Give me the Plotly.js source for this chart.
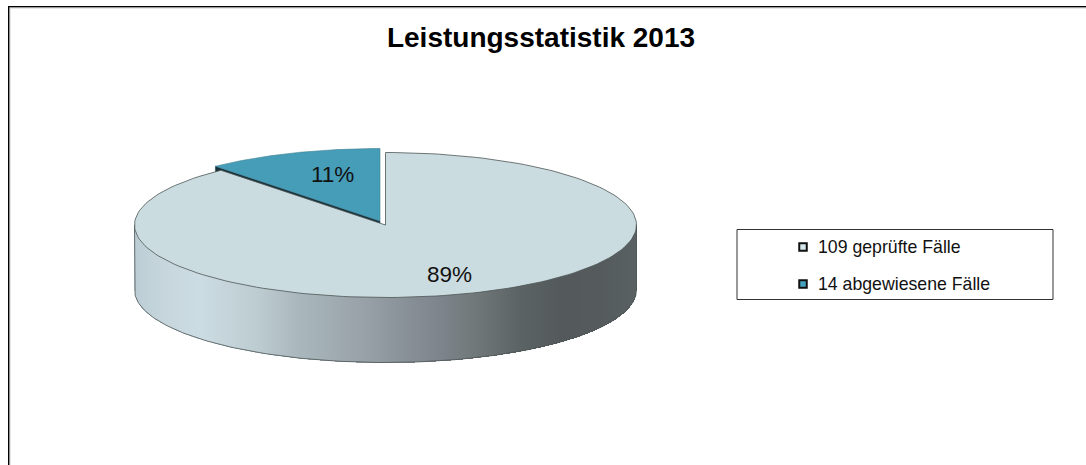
<!DOCTYPE html>
<html><head><meta charset="utf-8">
<script src="https://cdn.plot.ly/plotly-3.0.1.min.js"></script>
<style>html,body{margin:0;padding:0;background:#fff}#c{width:1086px;height:465px}</style>
</head><body><div id="c"></div>
<script>
const categories = ["109 geprüfte Fälle", "14 abgewiesene Fälle"];
const values = [109, 14];
const sliceColors = ["#CBDCE0", "#469DB8"];
const legendColors = ["#D6E8EE", "#46A3BF"];
const titleText = "Leistungsstatistik 2013";
const wallStopX = [135, 165, 200, 260, 300, 370, 440, 470, 520, 560, 600, 637];
const wallStopColor = ["#bdcdd5", "#c6d6dc", "#cbdce2", "#bccbd0", "#a9b7bc", "#969fa5", "#7d848c", "#737a7c", "#5c6364", "#545a5b", "#555b5c", "#5a6162"];

const W = 1086, H = 465;
const F = "'Liberation Sans', Arial, sans-serif";
const rx = 251, ry = 72.5, depth = 65;
const cx = 385.5, cy = 225;
const blueC = [380, 221];
const total = values[0] + values[1];
const fracs = values.map(v => v / total);

function wedge(c, a0, a1) {
  const xs = [c[0]], ys = [c[1]], n = 180;
  for (let i = 0; i <= n; i++) {
    const a = a0 + (a1 - a0) * i / n;
    xs.push(c[0] + rx * Math.sin(a));
    ys.push(c[1] - ry * Math.cos(a));
  }
  xs.push(c[0]); ys.push(c[1]);
  return [xs, ys];
}
const TAU = 2 * Math.PI;
const mainEnd = fracs[0] * TAU;
const mainW = wedge([cx, cy], 0, mainEnd);
const blueW = wedge(blueC, mainEnd, TAU);

// side wall: a gradient field masked to the visible rim
const gx = [], gy = [], gz = [];
for (let x = cx - rx; x <= cx + rx; x++) gx.push(x);
for (let y = cy; y <= cy + ry + depth + 1; y++) gy.push(y);
for (const y of gy) {
  gz.push(gx.map(x => {
    const t = (x - cx) / rx;
    const h = ry * Math.sqrt(Math.max(0, 1 - t * t));
    return (y <= cy + h + depth) ? x : null;
  }));
}
const xMin = wallStopX[0], xMax = wallStopX[wallStopX.length - 1];
const scale = wallStopX.map((x, i) => [(x - xMin) / (xMax - xMin), wallStopColor[i]]);

// lower rim outline
const rimX = [cx - rx], rimY = [cy];
for (let i = 0; i <= 180; i++) {
  const a = Math.PI * i / 180;
  rimX.push(cx - rx * Math.cos(a));
  rimY.push(cy + depth + ry * Math.sin(a));
}
rimX.push(cx + rx); rimY.push(cy);

// wall of the cut edge of the detached slice
const bl = [blueW[0][1], blueW[1][1]];
const cutX = [bl[0], blueC[0], blueC[0], bl[0], bl[0]];
const cutY = [bl[1], blueC[1], blueC[1] + depth, bl[1] + depth, bl[1]];

const edge = {color: "#4d5556", width: 0.8};
const traces = [
  {type: "scatter", x: cutX, y: cutY, mode: "lines", fill: "toself", fillcolor: "#17323c", line: {color: "#17323c", width: 0.5}, hoverinfo: "skip", showlegend: false},
  {type: "scatter", x: blueW[0], y: blueW[1], mode: "lines", fill: "toself", fillcolor: sliceColors[1], line: {color: "#3f7f92", width: 0.6}, name: categories[1], showlegend: false},
  {type: "heatmap", x: gx, y: gy, z: gz, colorscale: scale, zmin: xMin, zmax: xMax, showscale: false, hoverinfo: "skip"},
  {type: "scatter", x: rimX, y: rimY, mode: "lines", line: edge, hoverinfo: "skip", showlegend: false},
  {type: "scatter", x: mainW[0], y: mainW[1], mode: "lines", fill: "toself", fillcolor: sliceColors[0], line: edge, name: categories[0], showlegend: false},
  {type: "scatter", x: [803, 803], y: [247, 284], mode: "markers", hoverinfo: "skip", showlegend: false,
   marker: {symbol: "square", size: 7.5, color: legendColors, line: {color: "#111", width: 2}}}
];

const pct = fracs.map(f => Math.round(f * 100) + "%");
const ann = (x, y, text, size, xanchor) => ({x, y, text, xref: "x", yref: "y", showarrow: false, xanchor: xanchor || "center", yanchor: "middle",
  font: {family: F, size, color: "#111"}});

const layout = {
  width: W, height: H, margin: {l: 0, r: 0, t: 0, b: 0},
  paper_bgcolor: "#fff", plot_bgcolor: "#fff", showlegend: false,
  title: {text: titleText, x: 541 / W, y: 1 - 37 / H, xref: "paper", yref: "container", xanchor: "center", yanchor: "middle",
    font: {family: F, size: 28, color: "#000", weight: "bold"}},
  xaxis: {range: [0, W], visible: false, fixedrange: true},
  yaxis: {range: [H, 0], visible: false, fixedrange: true},
  shapes: [
    {type: "rect", xref: "x", yref: "y", x0: 9, x1: 10.5, y0: 7, y1: H, fillcolor: "#cfcfcf", line: {width: 0}, layer: "below"},
    {type: "rect", xref: "x", yref: "y", x0: 9, x1: W, y0: 7, y1: 8.5, fillcolor: "#cfcfcf", line: {width: 0}, layer: "below"},
    {type: "rect", xref: "x", yref: "y", x0: 8, x1: 9.3, y0: 6, y1: H, fillcolor: "#000", line: {width: 0}, layer: "below"},
    {type: "rect", xref: "x", yref: "y", x0: 8, x1: W, y0: 6, y1: 7.3, fillcolor: "#000", line: {width: 0}, layer: "below"},
    {type: "rect", xref: "x", yref: "y", x0: 737, x1: 1053, y0: 229.5, y1: 299.5, fillcolor: "rgba(0,0,0,0)", line: {color: "#333", width: 1}}
  ],
  annotations: [
    ann(449, 274, pct[0], 22.5),
    ann(332, 174, pct[1], 22.5),
    ann(816, 247, categories[0], 17.7, "left"),
    ann(816, 284, categories[1], 17.7, "left")
  ]
};
Plotly.newPlot("c", traces, layout, {displayModeBar: false});
</script></body></html>
